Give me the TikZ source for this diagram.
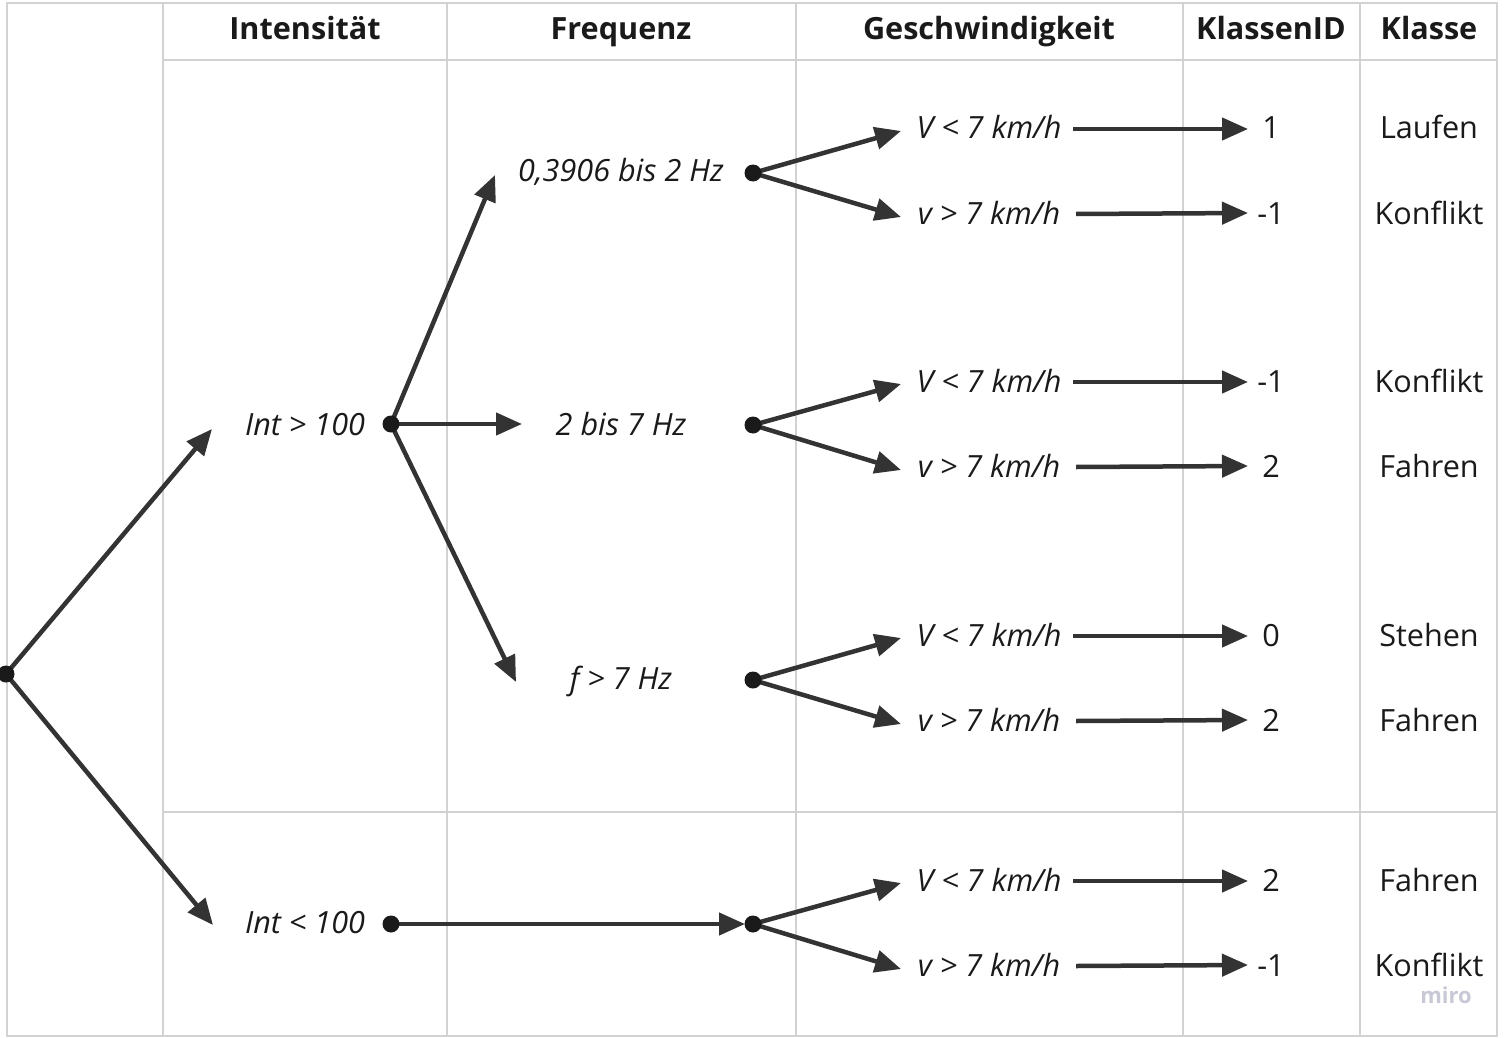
\documentclass[tikz,border=0pt]{standalone}
\usepackage{fontspec}
\setmainfont{Open Sans}
\usetikzlibrary{arrows.meta}
\definecolor{gridc}{HTML}{D2D2D2}
\definecolor{arr}{HTML}{333333}
\definecolor{txt}{HTML}{1A1A1A}
\definecolor{mirocol}{HTML}{C8C8D6}
\begin{document}
\begin{tikzpicture}[x=1pt,y=-1pt,
  gridline/.style={draw=gridc,line width=2pt},
  conn/.style={draw=arr,line width=4.5pt,-{Triangle[length=26pt,width=22pt]}},
  dotnode/.style={circle,fill=txt,inner sep=0pt,minimum size=17pt},
  hdr/.style={anchor=base,font=\fontsize{30.6}{36}\selectfont\bfseries,text=txt,inner sep=0pt},
  cond/.style={anchor=base,font=\fontsize{30.6}{36}\selectfont\itshape,text=txt,inner sep=0pt},
  val/.style={anchor=base,font=\fontsize{30.6}{36}\selectfont,text=txt,inner sep=0pt}]
\useasboundingbox (0,0) rectangle (1504,1038);
\fill[white] (0,0) rectangle (1504,1038);
% grid
\draw[gridline] (7,3) rectangle (1497,1036);
\foreach \x in {163,447,796,1183,1360} \draw[gridline] (\x,3) -- (\x,1036);
\draw[gridline] (163,60) -- (1497,60);
\draw[gridline] (163,812) -- (1497,812);
% headers
\node[hdr] (h1) at (305,40) {Intensität};
\node[hdr] (h2) at (621,40) {Frequenz};
\node[hdr] (h3) at (989,40) {Geschwindigkeit};
\node[hdr] (h4) at (1271,40) {KlassenID};
\node[hdr] (h5) at (1429,40) {Klasse};
% condition texts
\node[cond] (int1) at (305,435) {Int > 100};
\node[cond] (int2) at (305,933) {Int < 100};
\node[cond] (fr1) at (621,181) {0,3906 bis 2 Hz};
\node[cond] (fr2) at (621,435) {2 bis 7 Hz};
\node[cond] (fr3) at (621,689) {f > 7 Hz};
% speed texts, ids and classes
\foreach \k/\ya/\yb/\ia/\ib/\ca/\cb in {1/128/213/1/-1/Laufen/Konflikt,2/381/466/-1/2/Konflikt/Fahren,3/635/720/0/2/Stehen/Fahren,4/880/965/2/-1/Fahren/Konflikt}{
  \node[cond] (sa\k) at (989,\ya+11) {V < 7 km/h};
  \node[cond] (sb\k) at (989,\yb+11) {v > 7 km/h};
  \node[val] (ia\k) at (1271,\ya+11) {\ia};
  \node[val] (ib\k) at (1271,\yb+11) {\ib};
  \node[val] (ca\k) at (1429,\ya+11) {\ca};
  \node[val] (cb\k) at (1429,\yb+11) {\cb};
  \coordinate (ta\k) at (901,\ya+3);
  \coordinate (tb\k) at (901,\yb+4);
  \coordinate (hsa\k) at (1073,\ya+1);
  \coordinate (hea\k) at (1248,\ya+1);
  \coordinate (hsb\k) at (1076,\yb+1);
  \coordinate (heb\k) at (1248,\yb);
  \draw[conn] (hsa\k) -- (hea\k);
  \draw[conn] (hsb\k) -- (heb\k);
}
% dots
\coordinate (r) at (6,674);
\coordinate (i1) at (391,424);
\coordinate (i2) at (391,924);
\coordinate (g1) at (753,173);
\coordinate (g2) at (753,425);
\coordinate (g3) at (753,680);
\coordinate (g4) at (753,924);
% tips
\coordinate (rt1) at (212,429);
\coordinate (rt2) at (213,925);
\coordinate (ft1) at (495,175);
\coordinate (ft2) at (522,424);
\coordinate (ft3) at (516,682);
\draw[conn] (r) -- (rt1);
\draw[conn] (r) -- (rt2);
\draw[conn] (i1) -- (ft1);
\draw[conn] (i1) -- (ft2);
\draw[conn] (i1) -- (ft3);
\draw[conn] (i2) -- ([xshift=-8pt]g4);
\foreach \k in {1,2,3,4}{
  \draw[conn] (g\k) -- (ta\k);
  \draw[conn] (g\k) -- (tb\k);
}
\foreach \d in {r,i1,i2,g1,g2,g3,g4} \node[dotnode] (d\d) at (\d) {};
% watermark
\node[anchor=base,font=\fontsize{22}{26}\selectfont\bfseries,text=mirocol,inner sep=0pt] (miro) at (1446,1003) {miro};
\end{tikzpicture}
\end{document}
